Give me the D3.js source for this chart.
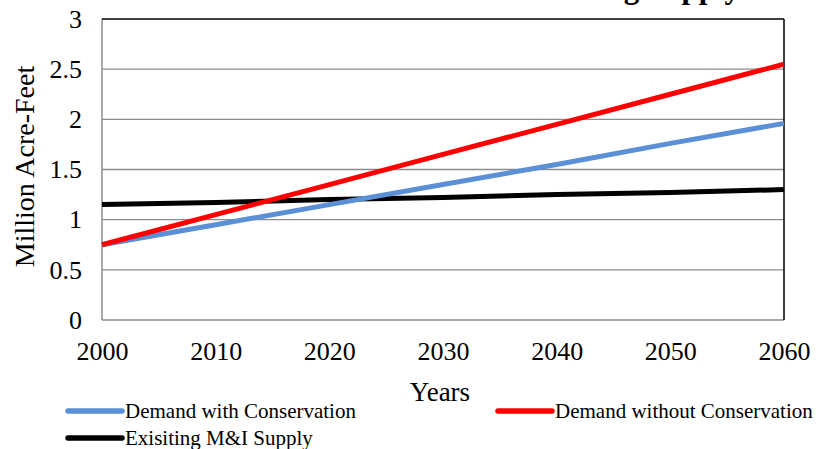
<!DOCTYPE html>
<html>
<head>
<meta charset="utf-8">
<script src="https://cdn.jsdelivr.net/npm/d3@7"></script>
<style>
  body { margin: 0; background: #fff; }
  svg text { font-family: "Liberation Serif", "Times New Roman", serif !important; fill: #000; }
</style>
</head>
<body>
<div id="chart"></div>
<script>
// chart values
var years = [2000, 2010, 2020, 2030, 2040, 2050, 2060];
var withConservation = [0.75, 0.95, 1.15, 1.35, 1.55, 1.76, 1.96];
var withoutConservation = [0.75, 1.05, 1.35, 1.65, 1.95, 2.25, 2.55];
var existingSupply = [1.15, 1.17, 1.20, 1.22, 1.25, 1.27, 1.30];
var yTicks = [0, 0.5, 1, 1.5, 2, 2.5, 3];
var seriesNames = ["Demand with Conservation", "Demand without Conservation", "Exisiting M&I Supply"];
var seriesColors = ["#5b8fd6", "#ff0000", "#000000"];

var svgWidth = 821;
var svgHeight = 449;
var margin = { top: 19, right: 37, bottom: 129, left: 102 };
var chartWidth = svgWidth - margin.left - margin.right;
var chartHeight = svgHeight - margin.top - margin.bottom;

var svg = d3.select("#chart")
  .append("svg")
  .attr("width", svgWidth)
  .attr("height", svgHeight);

// title, cut off by the top edge as in the original
svg.append("text")
  .attr("x", 740)
  .attr("y", -2)
  .attr("text-anchor", "end")
  .attr("font-size", "31px")
  .attr("font-weight", "bold")
  .text("M&I Demand and Existing Supply");

var chartGroup = svg.append("g")
  .attr("transform", "translate(" + margin.left + "," + margin.top + ")");

var xScale = d3.scaleLinear().domain([2000, 2060]).range([0, chartWidth]);
var yScale = d3.scaleLinear().domain([0, 3]).range([chartHeight, 0]);

// gridlines
chartGroup.selectAll(".grid")
  .data(yTicks.filter(function(d) { return d > 0 && d < 3; }))
  .enter()
  .append("line")
  .attr("x1", 0)
  .attr("x2", chartWidth)
  .attr("y1", function(d) { return yScale(d); })
  .attr("y2", function(d) { return yScale(d); })
  .attr("stroke", "#8c8c8c")
  .attr("stroke-width", 1.3);

// frame: left/bottom gray, top/right dark
chartGroup.append("line").attr("x1", 0).attr("x2", 0).attr("y1", 0).attr("y2", chartHeight)
  .attr("stroke", "#8c8c8c").attr("stroke-width", 1.5);
chartGroup.append("line").attr("x1", 0).attr("x2", chartWidth).attr("y1", chartHeight).attr("y2", chartHeight)
  .attr("stroke", "#8c8c8c").attr("stroke-width", 1.5);
chartGroup.append("line").attr("x1", 0).attr("x2", chartWidth).attr("y1", 0).attr("y2", 0)
  .attr("stroke", "#000").attr("stroke-width", 1.5);
chartGroup.append("line").attr("x1", chartWidth).attr("x2", chartWidth).attr("y1", 0).attr("y2", chartHeight)
  .attr("stroke", "#000").attr("stroke-width", 1.5);

// axes
var bottomAxis = d3.axisBottom(xScale).tickValues(years).tickFormat(d3.format("d")).tickSize(0).tickPadding(22);
var leftAxis = d3.axisLeft(yScale).tickValues(yTicks).tickFormat(function(d) { return d; }).tickSize(0).tickPadding(20);

var xAxisG = chartGroup.append("g")
  .attr("transform", "translate(0," + chartHeight + ")")
  .call(bottomAxis);
var yAxisG = chartGroup.append("g").call(leftAxis);

[xAxisG, yAxisG].forEach(function(g) {
  g.attr("font-family", null);
  g.select(".domain").remove();
  g.selectAll("text")
    .style("font-family", "'Liberation Serif', serif")
    .attr("font-size", "26px")
    .attr("fill", "#000");
});

// data lines
var series = [withConservation, withoutConservation, existingSupply];
var line = d3.line()
  .x(function(d, i) { return xScale(years[i]); })
  .y(function(d) { return yScale(d); });

chartGroup.selectAll(".series")
  .data([series[2], series[0], series[1]])
  .enter()
  .append("path")
  .attr("d", line)
  .attr("fill", "none")
  .attr("stroke", function(d) { return seriesColors[series.indexOf(d)]; })
  .attr("stroke-width", 5);

// axis titles
svg.append("text")
  .attr("transform", "translate(34," + (margin.top + chartHeight / 2 - 3) + ") rotate(-90)")
  .attr("text-anchor", "middle")
  .attr("font-size", "28px")
  .text("Million Acre-Feet");

svg.append("text")
  .attr("x", 440)
  .attr("y", 401)
  .attr("text-anchor", "middle")
  .attr("font-size", "27px")
  .text("Years");

// legend
var legendPos = [
  { x: 68, y: 411 },
  { x: 498, y: 411 },
  { x: 68, y: 438 }
];
var legend = svg.selectAll(".legend")
  .data(seriesNames)
  .enter()
  .append("g")
  .attr("transform", function(d, i) { return "translate(" + legendPos[i].x + "," + legendPos[i].y + ")"; });

legend.append("line")
  .attr("x1", 0)
  .attr("x2", 54)
  .attr("stroke", function(d, i) { return seriesColors[i]; })
  .attr("stroke-width", 5.5)
  .attr("stroke-linecap", "round");

legend.append("text")
  .attr("x", 57)
  .attr("y", 7)
  .attr("font-size", "21px")
  .text(function(d) { return d; });
</script>
</body>
</html>
